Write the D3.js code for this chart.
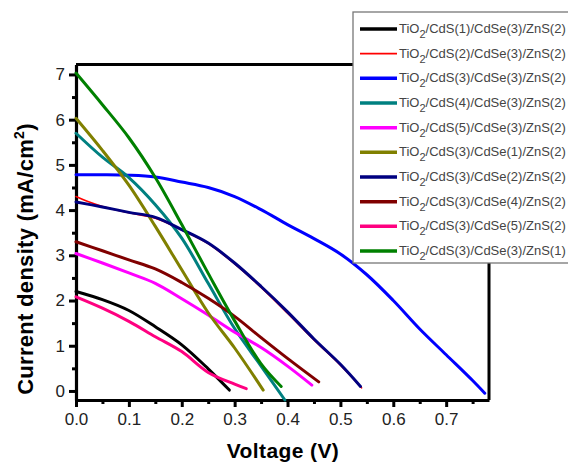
<html>
<head>
<script src="https://d3js.org/d3.v7.min.js"></script>
<style>
  body { margin: 0; background: #fff; }
  svg { font-family: Arial, "Liberation Sans", sans-serif; }
  .tick text { font-size: 17px; fill: #222; }
  .axis-title { font-weight: bold; text-anchor: middle; }
  .legend-text { font-size: 13px; fill: #444; }
</style>
</head>
<body>
<svg width="568" height="464" id="chart"></svg>
<script>
// J-V curves, [voltage (V), current density (mA/cm2)]
const cds1 = [[0,2.2],[0.05,2.02],[0.1,1.78],[0.15,1.42],[0.2,1.02],[0.25,0.49],[0.29,0.02]];
const cds2 = [[0,4.3],[0.02,4.2],[0.05,4.08],[0.1,3.94],[0.15,3.82],[0.2,3.56],[0.25,3.26],[0.3,2.81],[0.35,2.29],[0.4,1.72],[0.45,1.13],[0.5,0.57],[0.54,0.07]];
const cds3 = [[0,4.78],[0.05,4.78],[0.1,4.77],[0.15,4.73],[0.2,4.62],[0.25,4.5],[0.3,4.3],[0.35,4.01],[0.4,3.68],[0.45,3.37],[0.5,3.03],[0.55,2.57],[0.6,2.0],[0.65,1.37],[0.7,0.8],[0.75,0.23],[0.773,-0.05]];
const cds4 = [[0,5.7],[0.05,5.17],[0.1,4.72],[0.15,4.12],[0.2,3.38],[0.25,2.38],[0.3,1.38],[0.35,0.55],[0.395,-0.2]];
const cds5 = [[0,3.04],[0.05,2.83],[0.1,2.61],[0.15,2.38],[0.2,2.04],[0.25,1.68],[0.3,1.3],[0.35,0.96],[0.4,0.55],[0.446,0.13]];
const cdse1 = [[0,6.03],[0.05,5.32],[0.1,4.55],[0.15,3.64],[0.2,2.68],[0.25,1.73],[0.3,0.95],[0.354,0.02]];
const cdse2 = [[0,4.18],[0.05,4.07],[0.1,3.95],[0.15,3.84],[0.2,3.57],[0.25,3.27],[0.3,2.83],[0.35,2.31],[0.4,1.75],[0.45,1.15],[0.5,0.59],[0.538,0.1]];
const cdse4 = [[0,3.3],[0.05,3.1],[0.1,2.9],[0.15,2.7],[0.2,2.4],[0.25,2.05],[0.3,1.65],[0.35,1.18],[0.4,0.72],[0.459,0.2]];
const cdse5 = [[0,2.08],[0.05,1.83],[0.1,1.54],[0.15,1.2],[0.2,0.87],[0.25,0.41],[0.3,0.15],[0.322,0.05]];
const zns1 = [[0,7.03],[0.05,6.33],[0.1,5.6],[0.15,4.72],[0.2,3.68],[0.25,2.6],[0.3,1.55],[0.35,0.6],[0.388,0.1]];

const labels = [
  ["CdS(1)", "CdSe(3)", "ZnS(2)"],
  ["CdS(2)", "CdSe(3)", "ZnS(2)"],
  ["CdS(3)", "CdSe(3)", "ZnS(2)"],
  ["CdS(4)", "CdSe(3)", "ZnS(2)"],
  ["CdS(5)", "CdSe(3)", "ZnS(2)"],
  ["CdS(3)", "CdSe(1)", "ZnS(2)"],
  ["CdS(3)", "CdSe(2)", "ZnS(2)"],
  ["CdS(3)", "CdSe(4)", "ZnS(2)"],
  ["CdS(3)", "CdSe(5)", "ZnS(2)"],
  ["CdS(3)", "CdSe(3)", "ZnS(1)"]
];
const curves = [cds1, cds2, cds3, cds4, cds5, cdse1, cdse2, cdse4, cdse5, zns1];
const colors = ["#000000", "#ff0000", "#0000ff", "#008080", "#ff00ff", "#808000", "#000080", "#800000", "#ff0080", "#008000"];
const widths = [3, 1.6, 3, 3, 3, 3, 3, 3, 3, 3];

const xTicks = [0, 0.1, 0.2, 0.3, 0.4, 0.5, 0.6, 0.7];
const yTicks = [0, 1, 2, 3, 4, 5, 6, 7];

const svg = d3.select("#chart");
const plotLeft = 76, plotRight = 489, plotTop = 64.5, plotBottom = 400;

const xs = d3.scaleLinear().domain([0, 0.781]).range([plotLeft, plotRight]);
const ys = d3.scaleLinear().domain([-0.2, 7.22]).range([plotBottom, plotTop]);

// frame (top and right)
svg.append("path")
  .attr("d", `M${plotLeft},${plotTop}H${plotRight}V${plotBottom}`)
  .attr("fill", "none").attr("stroke", "#000").attr("stroke-width", 3);

// minor ticks
const xMinor = d3.range(0.05, 0.78, 0.1);
const yMinor = d3.range(0.5, 7, 1);
svg.append("g").attr("transform", `translate(0,${plotBottom})`)
  .call(d3.axisBottom(xs).tickValues(xMinor).tickFormat("").tickSize(4).tickSizeOuter(0))
  .call(g => g.select(".domain").remove())
  .selectAll("line").attr("stroke-width", 3);
svg.append("g").attr("transform", `translate(${plotLeft},0)`)
  .call(d3.axisLeft(ys).tickValues(yMinor).tickFormat("").tickSize(4).tickSizeOuter(0))
  .call(g => g.select(".domain").remove())
  .selectAll("line").attr("stroke-width", 3);

// major axes
const xAxis = svg.append("g").attr("transform", `translate(0,${plotBottom})`)
  .call(d3.axisBottom(xs).tickValues(xTicks).tickFormat(d3.format(".1f")).tickSize(7).tickSizeOuter(0).tickPadding(6));
xAxis.select(".domain").attr("stroke-width", 3.2);
xAxis.selectAll("line").attr("stroke-width", 3);

const yAxis = svg.append("g").attr("transform", `translate(${plotLeft},0)`)
  .call(d3.axisLeft(ys).tickValues(yTicks).tickFormat(d3.format("d")).tickSize(7).tickSizeOuter(0).tickPadding(4));
yAxis.select(".domain").attr("stroke-width", 3.2);
yAxis.selectAll("line").attr("stroke-width", 3);

// curves
const line = d3.line()
  .x(d => xs(d[0]))
  .y(d => ys(d[1]))
  .curve(d3.curveCatmullRom.alpha(0.5));

svg.append("g").selectAll("path")
  .data(curves)
  .join("path")
  .attr("d", line)
  .attr("fill", "none")
  .attr("stroke", (d, i) => colors[i])
  .attr("stroke-width", (d, i) => widths[i])
  .attr("stroke-linejoin", "round")
  .attr("stroke-linecap", "round");

// axis titles
svg.append("text").attr("class", "axis-title")
  .attr("x", 283).attr("y", 458)
  .attr("font-size", 21).attr("letter-spacing", 0.4)
  .text("Voltage (V)");

const yt = svg.append("text").attr("class", "axis-title")
  .attr("font-size", 22).attr("letter-spacing", 0.3)
  .attr("transform", "translate(33,259) rotate(-90)");
yt.append("tspan").text("Current density (mA/cm");
yt.append("tspan").attr("font-size", 14).attr("dy", -9).text("2");
yt.append("tspan").attr("dy", 9).text(")");

// legend
const legend = svg.append("g");
legend.append("rect")
  .attr("x", 353).attr("y", 12).attr("width", 230).attr("height", 251)
  .attr("fill", "#fff").attr("stroke", "#777").attr("stroke-width", 1.3);

const rowY = d3.scaleLinear().domain([0, 9]).range([29, 251]);
labels.forEach((lab, i) => {
  const y = rowY(i);
  legend.append("line")
    .attr("x1", 360).attr("x2", 397).attr("y1", y).attr("y2", y)
    .attr("stroke", colors[i]).attr("stroke-width", i === 1 ? 1.6 : 3.5);
  const t = legend.append("text").attr("class", "legend-text")
    .attr("x", 399).attr("y", y + 4);
  t.append("tspan").text("TiO");
  t.append("tspan").attr("font-size", 11).attr("dy", 5).text("2");
  t.append("tspan").attr("dy", -5).text("/" + lab.join("/"));
});
</script>
</body>
</html>
